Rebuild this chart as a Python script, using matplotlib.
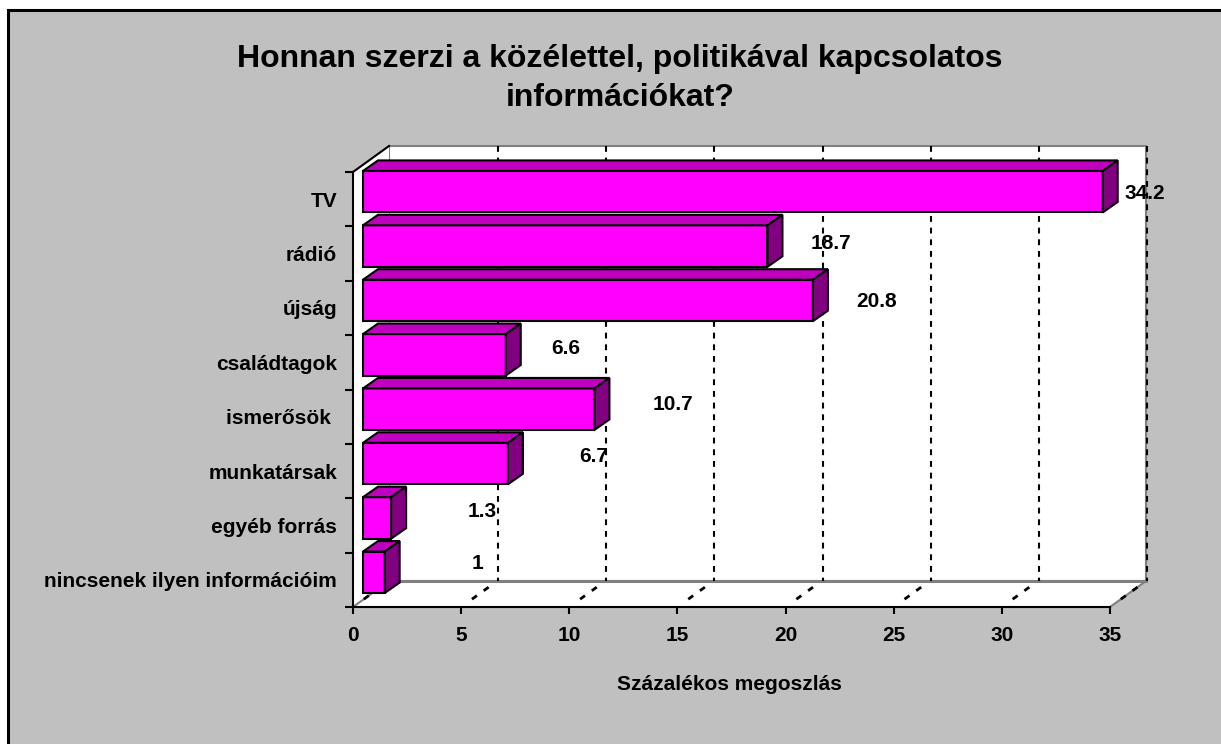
"""Horizontal pseudo-3D bar chart, sources of public information"""
import matplotlib
matplotlib.use("Agg")
import matplotlib.pyplot as plt
from matplotlib.patches import Polygon, Rectangle

#Data
categories = ["TV", "rádió", "újság", "családtagok", "ismerősök ", "munkatársak",
              "egyéb forrás", "nincsenek ilyen információim"]
values = [34.2, 18.7, 20.8, 6.6, 10.7, 6.7, 1.3, 1]
xTicks = [0, 5, 10, 15, 20, 25, 30, 35]
titleText = "Honnan szerzi a közélettel, politikával kapcsolatos\ninformációkat?"
xLabelText = "Százalékos megoszlás"
#where each data label sits relative to its bar end, in pixels
labelShiftX = [42, 63, 64, 60, 79, 86, 91, 93]
labelShiftY = [6, 10, 6, 14, 12, 15, 14, 16]

W, H = 1221, 744
plt.rcParams["font.family"] = ["Liberation Sans", "DejaVu Sans"]
plt.rcParams["font.weight"] = "bold"

fig = plt.figure(figsize=(W / 100, H / 100), dpi=100, facecolor="white")
#Chart area with its black edge on the top and left
fig.patches.append(Rectangle((8 / W, -0.1), 1.2, 1.1 - 10 / H, transform=fig.transFigure,
                             facecolor="#C0C0C0", edgecolor="black", linewidth=2.2, zorder=-1))

ax = fig.add_axes([353 / W, 1 - 607 / H, 757 / W, 435 / H])
ax.set_xlim(0, 35)
ax.set_ylim(len(categories), 0)
ax.patch.set_alpha(0)
for side in ["top", "right"]:
    ax.spines[side].set_visible(False)
for side in ["bottom", "left"]:
    ax.spines[side].set_linewidth(1.5)
    ax.spines[side].set_zorder(6)

#Depth of the box and of the bars, in data units
pxX = 35 / 757
pxY = 8 / 435
wallX, wallY = 36 * pxX, 26 * pxY
barX, barY = 15 * pxX, 10.5 * pxY
startX, shiftY = 10 * pxX, 7.5 * pxY
barHeight = 41.5 * pxY
n = len(categories)

#Back wall, side wall and floor
ax.add_patch(Polygon([(wallX, -wallY), (35 + wallX, -wallY), (35 + wallX, n - wallY), (wallX, n - wallY)],
                     facecolor="white", edgecolor="#808080", linewidth=1.5, clip_on=False, zorder=1))
ax.add_patch(Polygon([(0, 0), (wallX, -wallY), (wallX, n - wallY), (0, n)],
                     facecolor="white", edgecolor="none", clip_on=False, zorder=1))
ax.add_patch(Polygon([(0, n), (wallX, n - wallY), (35 + wallX, n - wallY), (35, n)],
                     facecolor="white", edgecolor="none", clip_on=False, zorder=1))
ax.plot([0, wallX], [0, -wallY], color="black", lw=1.5, clip_on=False, zorder=2)
ax.plot([0, wallX], [n, n - wallY], color="#808080", lw=1.5, clip_on=False, zorder=2)
ax.plot([35, 35 + wallX], [n, n - wallY], color="#808080", lw=1.5, clip_on=False, zorder=2)
ax.plot([wallX, 35 + wallX], [n - wallY, n - wallY], color="#808080", lw=2.2, clip_on=False, zorder=2)

#Dashed grid on wall and floor
for t in xTicks:
    if t > 0:
        ax.plot([t + wallX + 1 * pxX] * 2, [-wallY, n - wallY], color="black", lw=1.5,
                dashes=(2.8, 2.8), clip_on=False, zorder=2)
    ax.plot([t + wallX * 0.3, t + wallX * 0.92], [n - wallY * 0.3, n - wallY * 0.92], color="black", lw=2,
            dashes=(2.2, 3), clip_on=False, zorder=2)

#Bars: front, top and side faces
for i, v in enumerate(values):
    top = i + 0.5 - shiftY - barHeight / 2
    bottom = top + barHeight
    right = startX + v
    ax.barh(top + barHeight / 2, v, height=barHeight, left=startX, color="#FF00FF", edgecolor="black",
            linewidth=1.5, clip_on=False, zorder=4)
    ax.add_patch(Polygon([(startX, top), (startX + barX, top - barY), (right + barX, top - barY), (right, top)],
                         facecolor="#BF00BF", edgecolor="black", linewidth=1.5, clip_on=False, zorder=4))
    ax.add_patch(Polygon([(right, top), (right + barX, top - barY), (right + barX, bottom - barY), (right, bottom)],
                         facecolor="#800080", edgecolor="black", linewidth=1.5, clip_on=False, zorder=4))
    ax.annotate(str(v), xy=(right, top + barHeight / 2 + shiftY), xycoords="data",
                xytext=(labelShiftX[i] * 0.72, labelShiftY[i] * 0.72), textcoords="offset points",
                ha="center", va="center", fontsize=15, fontweight="bold", color="black",
                annotation_clip=False, zorder=8)

#Axes ticks and labels
ax.set_xticks(xTicks)
ax.tick_params(axis="x", length=5, width=1.5, pad=8.5, labelsize=15, color="black")
ax.set_yticks(range(n + 1))
ax.set_yticklabels([])
ax.tick_params(axis="y", which="major", length=6, width=1.5, color="black")
ax.set_yticks([i + 0.5 for i in range(n)], minor=True)
ax.set_yticklabels(categories, minor=True, fontsize=15, fontweight="bold")
ax.tick_params(axis="y", which="minor", length=0, pad=11.5)

fig.text(729 / W, 1 - 684 / H, xLabelText, ha="center", va="center", fontsize=15, fontweight="bold")
fig.text(620 / W, 1 - 78.5 / H, titleText, ha="center", va="center", fontsize=23, fontweight="bold",
         linespacing=1.38)

fig.savefig("out.png", dpi=100, facecolor="white")
